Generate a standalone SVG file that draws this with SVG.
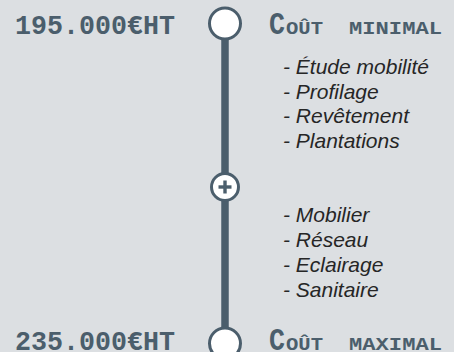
<svg xmlns="http://www.w3.org/2000/svg" width="454" height="352" viewBox="0 0 454 352">
<style>
.bg{fill:#dcdfe2}
.dark{fill:#4b5e6c}
.node{fill:#ffffff;stroke:#4b5e6c;stroke-width:3}
.price{font-family:"Liberation Mono","DejaVu Sans Mono",monospace;font-weight:bold;font-size:27px;fill:#4b5e6c}
.cap{font-family:"Liberation Mono","DejaVu Sans Mono",monospace;font-weight:bold;fill:#4b5e6c}
.item{font-family:"Liberation Sans",Arial,sans-serif;font-style:italic;font-size:21px;fill:#262626}
</style>
<rect class="bg" x="0" y="0" width="454" height="352"/>
<g id="connectors">
<line x1="225" y1="38" x2="225" y2="328" stroke="#4b5e6c" stroke-width="7.5"/>
</g>
<g id="node-min">
<circle class="node" cx="225" cy="23.5" r="15.5"/>
<text class="price" x="15" y="34" textLength="160" lengthAdjust="spacingAndGlyphs">195.000€HT</text>
<text class="cap" x="269" y="33.5" font-size="32" textLength="16" lengthAdjust="spacingAndGlyphs">C</text>
<text class="cap" x="286" y="33.5" font-size="19" textLength="37" lengthAdjust="spacingAndGlyphs">OÛT</text>
<text class="cap" x="349" y="33.5" font-size="19" textLength="93" lengthAdjust="spacingAndGlyphs">MINIMAL</text>
</g>
<g id="list-1">
<text class="item" x="283" y="74">- Étude mobilité</text>
<text class="item" x="283" y="98.5">- Profilage</text>
<text class="item" x="283" y="123">- Revêtement</text>
<text class="item" x="283" y="147.5">- Plantations</text>
</g>
<g id="node-plus">
<circle class="node" cx="225" cy="187" r="13.5"/>
<rect class="dark" x="218.5" y="185.3" width="13" height="3.4"/>
<rect class="dark" x="223.3" y="180.5" width="3.4" height="13"/>
</g>
<g id="list-2">
<text class="item" x="283" y="222">- Mobilier</text>
<text class="item" x="283" y="247">- Réseau</text>
<text class="item" x="283" y="272">- Eclairage</text>
<text class="item" x="283" y="297">- Sanitaire</text>
</g>
<g id="node-max">
<circle class="node" cx="225" cy="343.5" r="15.5"/>
<text class="price" x="15" y="350" textLength="160" lengthAdjust="spacingAndGlyphs">235.000€HT</text>
<text class="cap" x="269" y="350" font-size="32" textLength="16" lengthAdjust="spacingAndGlyphs">C</text>
<text class="cap" x="286" y="350" font-size="19" textLength="37" lengthAdjust="spacingAndGlyphs">OÛT</text>
<text class="cap" x="349" y="350" font-size="19" textLength="93" lengthAdjust="spacingAndGlyphs">MAXIMAL</text>
</g>
</svg>
